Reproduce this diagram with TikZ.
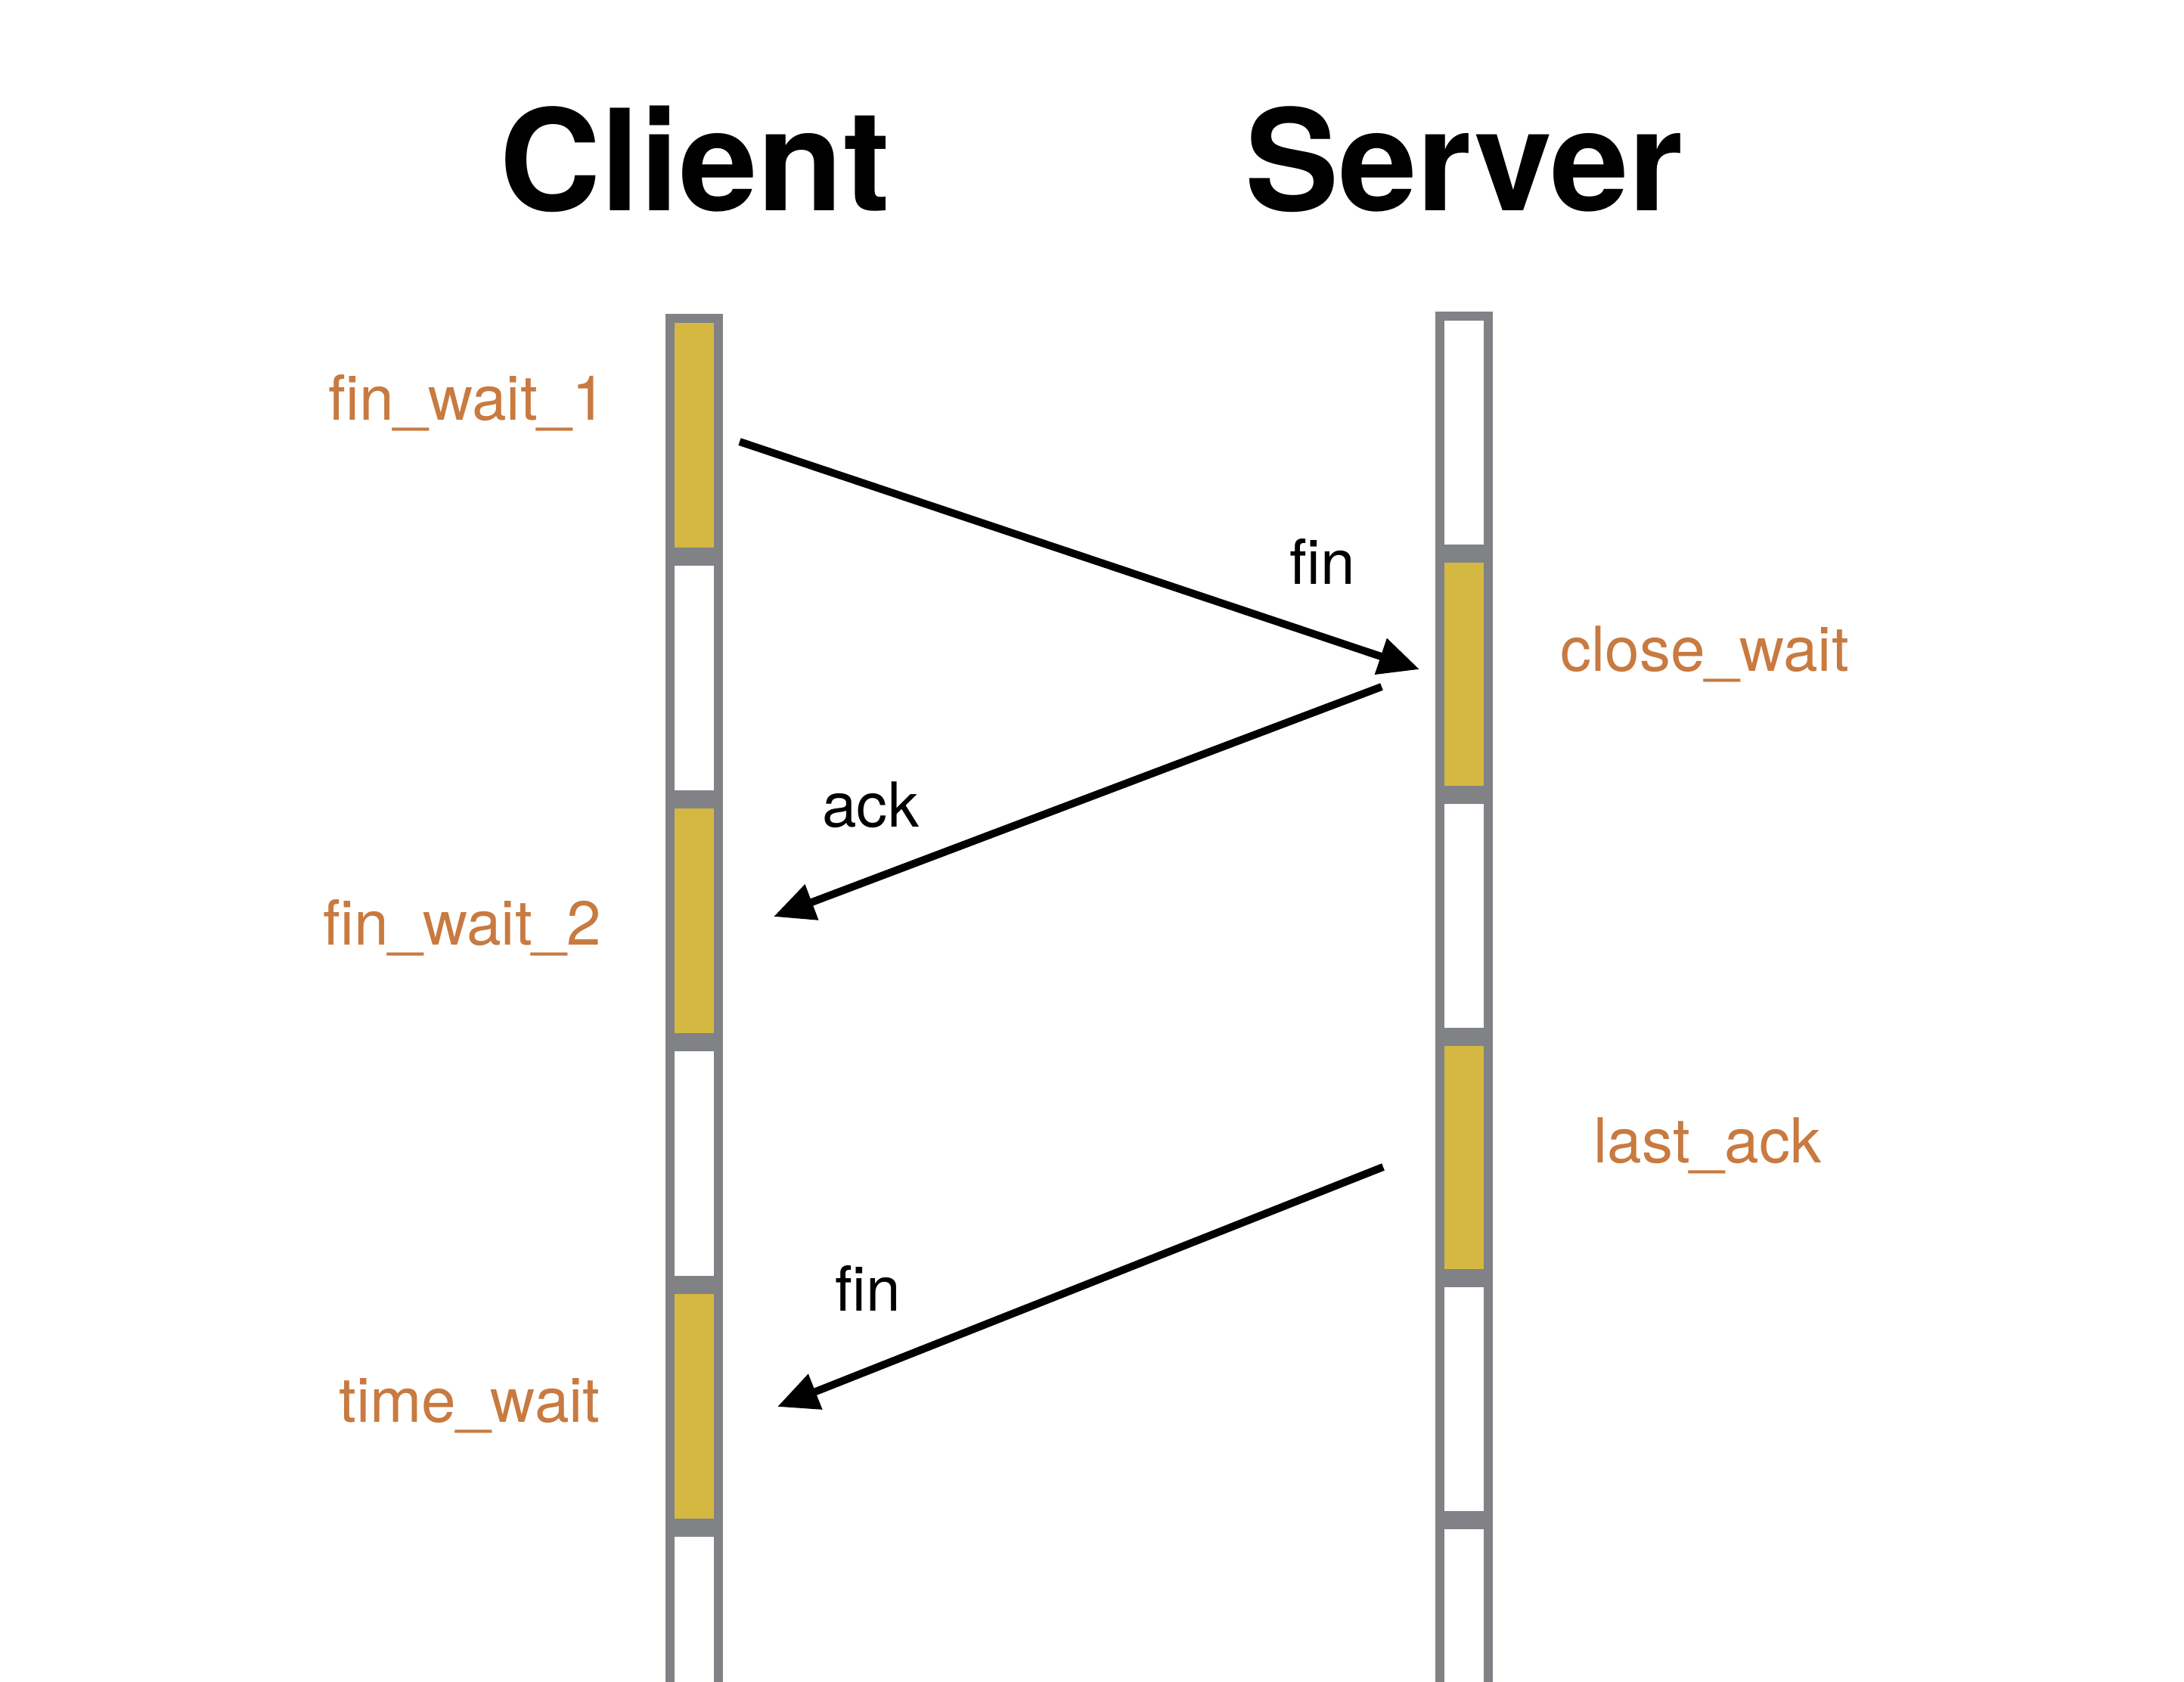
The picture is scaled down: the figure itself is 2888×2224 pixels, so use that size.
\documentclass[tikz,border=0pt]{standalone}
\usepackage{fontspec}
\setmainfont{TeX Gyre Heros}
\usetikzlibrary{arrows.meta}
\definecolor{segyellow}{RGB}{212,184,66}
\definecolor{seggray}{RGB}{128,130,134}
\definecolor{lblorange}{RGB}{200,122,64}
\begin{document}
\begin{tikzpicture}[x=1pt,y=-1pt,
  seg/.style={draw=seggray, line width=12pt, minimum width=64pt, inner sep=0pt, outer sep=0pt},
  active/.style={seg, fill=segyellow},
  idle/.style={seg, fill=white},
  title/.style={font=\fontsize{186}{200}\selectfont\bfseries, anchor=base, inner sep=0pt},
  state/.style={font=\fontsize{82}{100}\selectfont, text=lblorange, anchor=base, inner sep=0pt},
  msg/.style={font=\fontsize{82}{100}\selectfont, text=black, anchor=base, inner sep=0pt},
  arr/.style={line width=10pt, -{Triangle[length=54pt,width=48pt]}},
]
\useasboundingbox (0,0) rectangle (2888,2224);
\clip (0,0) rectangle (2888,2224);
\fill[white] (0,0) rectangle (2888,2224);
% client lifeline
\foreach \i/\st in {0/active,1/idle,2/active,3/idle,4/active,5/idle}{
  \node[\st, minimum height=309pt] (c\i) at (918, 575.5+321*\i) {};
}
% server lifeline
\foreach \i/\st in {0/idle,1/active,2/idle,3/active,4/idle,5/idle}{
  \node[\st, minimum height=307.5pt] (s\i) at (1936, 571.75+319.5*\i) {};
}
% titles
\node[title] (client) at (919, 278) {Client};
\node[title] (server) at (1936, 278) {Server};
% states
\node[state] (fw1) at (618, 555) {fin\_wait\_1};
\node[state] (fw2) at (611, 1249) {fin\_wait\_2};
\node[state] (tw) at (621, 1880) {time\_wait};
\node[state] (cw) at (2254, 887) {close\_wait};
\node[state] (la) at (2258, 1537) {last\_ack};
% arrows
\coordinate (a1s) at (978,584);
\coordinate (a1e) at (1877,885);
\coordinate (a2s) at (1827,908);
\coordinate (a2e) at (1023,1212);
\coordinate (a3s) at (1829,1543);
\coordinate (a3e) at (1028,1860);
\draw[arr] (a1s) -- (a1e);
\draw[arr] (a2s) -- (a2e);
\draw[arr] (a3s) -- (a3e);
% message labels
\node[msg] (m1) at (1749, 772) {fin};
\node[msg] (m2) at (1151, 1093) {ack};
\node[msg] (m3) at (1148, 1733) {fin};
\end{tikzpicture}
\end{document}
